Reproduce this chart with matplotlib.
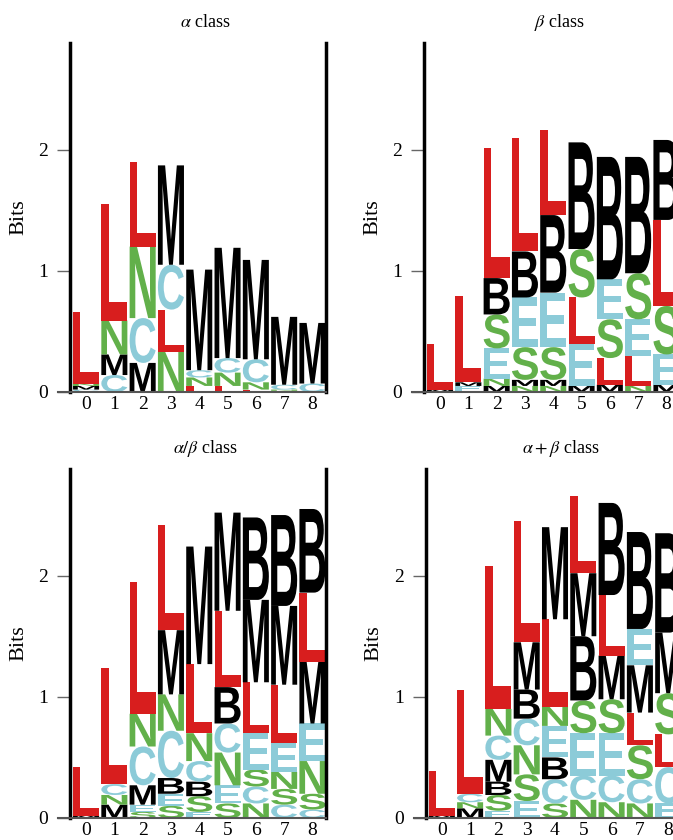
import matplotlib
matplotlib.use("Agg")
import matplotlib.pyplot as plt
from matplotlib.textpath import TextPath
from matplotlib.font_manager import FontProperties
from matplotlib.patches import PathPatch
from matplotlib.transforms import Affine2D

plt.rcParams['font.family'] = 'Liberation Serif'
plt.rcParams['mathtext.fontset'] = 'stix'

positions = [0, 1, 2, 3, 4, 5, 6, 7, 8]

# stacks listed bottom -> top, heights in bits
alpha_letters = [["C", "M", "N", "L"], ["C", "M", "N", "L"], ["M", "C", "N", "L"],
                 ["N", "L", "C", "M"], ["L", "N", "C", "M"], ["L", "N", "C", "M"],
                 ["L", "N", "C", "M"], ["L", "N", "C", "M"], ["C", "M"]]
alpha_heights = [[0.02, 0.03, 0.02, 0.59], [0.14, 0.17, 0.28, 0.96], [0.24, 0.37, 0.59, 0.70],
                 [0.33, 0.35, 0.37, 0.82], [0.05, 0.07, 0.06, 0.83], [0.05, 0.11, 0.12, 0.91],
                 [0.02, 0.06, 0.19, 0.82], [0.01, 0.01, 0.04, 0.56], [0.07, 0.50]]

beta_letters = [["M", "L"], ["E", "M", "L"], ["M", "N", "E", "S", "B", "L"],
                ["N", "M", "S", "E", "B", "L"], ["N", "M", "S", "E", "B", "L"],
                ["M", "E", "L", "S", "B"], ["M", "L", "S", "E", "B"],
                ["N", "L", "E", "S", "B"], ["M", "E", "S", "L", "B"]]
beta_heights = [[0.02, 0.38], [0.05, 0.03, 0.71], [0.05, 0.06, 0.25, 0.28, 0.30, 1.07],
                [0.05, 0.05, 0.27, 0.41, 0.38, 0.94], [0.05, 0.05, 0.27, 0.45, 0.64, 0.70],
                [0.05, 0.35, 0.38, 0.40, 0.88], [0.06, 0.22, 0.32, 0.33, 1.01],
                [0.05, 0.25, 0.30, 0.38, 0.96], [0.06, 0.25, 0.40, 0.71, 0.66]]

ab_letters = [["M", "L"], ["M", "N", "C", "L"], ["S", "E", "M", "C", "N", "L"],
              ["S", "E", "B", "C", "N", "M", "L"], ["E", "S", "B", "C", "N", "L", "M"],
              ["S", "E", "N", "C", "B", "L", "M"], ["N", "C", "S", "E", "L", "M", "B"],
              ["C", "S", "N", "E", "L", "M", "B"], ["C", "S", "N", "E", "M", "L", "B"]]
ab_heights = [[0.02, 0.40], [0.11, 0.08, 0.09, 0.96], [0.05, 0.06, 0.16, 0.32, 0.27, 1.09],
              [0.10, 0.10, 0.13, 0.39, 0.30, 0.53, 0.87], [0.05, 0.13, 0.12, 0.17, 0.23, 0.57, 0.97],
              [0.12, 0.15, 0.27, 0.24, 0.30, 0.63, 0.81], [0.12, 0.14, 0.14, 0.30, 0.42, 0.68, 0.68],
              [0.11, 0.13, 0.14, 0.24, 0.48, 0.65, 0.75], [0.07, 0.13, 0.27, 0.31, 0.51, 0.57, 0.69]]

apb_letters = [["M", "L"], ["M", "N", "C", "L"], ["E", "S", "B", "M", "C", "N", "L"],
               ["E", "S", "N", "C", "B", "M", "L"], ["S", "C", "B", "E", "N", "L", "M"],
               ["N", "C", "E", "S", "B", "M", "L"], ["N", "C", "E", "S", "M", "L", "B"],
               ["N", "C", "S", "L", "M", "E", "B"], ["E", "C", "L", "S", "M", "B"]]
apb_heights = [[0.02, 0.37], [0.08, 0.05, 0.07, 0.86], [0.06, 0.13, 0.11, 0.18, 0.20, 0.22, 1.18],
               [0.14, 0.22, 0.24, 0.22, 0.24, 0.39, 1.00], [0.12, 0.20, 0.18, 0.26, 0.16, 0.72, 0.76],
               [0.15, 0.20, 0.35, 0.27, 0.53, 0.52, 0.64], [0.13, 0.22, 0.35, 0.28, 0.36, 0.50, 0.76],
               [0.12, 0.20, 0.28, 0.27, 0.39, 0.30, 0.80], [0.12, 0.30, 0.27, 0.34, 0.50, 0.82]]

titles = [r'$\alpha$ class', r'$\beta$ class', r'$\alpha/\beta$ class', r'$\alpha+\beta$ class']

colors = {"L": "#d81e1e", "N": "#62b04a", "S": "#62b04a",
          "C": "#8ccbd8", "E": "#8ccbd8", "M": "#000000", "B": "#000000"}

fp = FontProperties(family='Liberation Sans', weight='bold')


def draw_letter(ax, letter, x, y0, h, w=0.92):
    tp = TextPath((0, 0), letter, size=1, prop=fp)
    bb = tp.get_extents()
    tr = Affine2D().translate(-bb.x0, -bb.y0).scale(w / bb.width, h / bb.height).translate(x - w / 2, y0)
    patch = PathPatch(tr.transform_path(tp), facecolor=colors[letter], edgecolor='none')
    ax.add_patch(patch)


def draw_logo(ax, letters, heights, title):
    for x, lets, hs in zip(positions, letters, heights):
        y0 = 0
        for let, h in zip(lets, hs):
            draw_letter(ax, let, x, y0, h)
            y0 += h
    ax.set_xlim(-1.0, 8.47)
    ax.set_ylim(0, 2.88)
    ax.spines['top'].set_visible(False)
    ax.spines['left'].set_position(('data', -0.55))
    ax.spines['left'].set_linewidth(2.5)
    ax.spines['right'].set_linewidth(2.5)
    ax.spines['bottom'].set_linewidth(1.5)
    ax.spines['bottom'].set_color('#555555')
    ax.set_xticks(positions)
    ax.set_yticks([0, 1, 2])
    ax.tick_params(axis='x', length=0, pad=3, labelsize=14)
    ax.tick_params(axis='y', direction='out', length=9.5, width=1, pad=6.5,
                   labelsize=14, color='#666666')
    ax.set_ylabel('Bits', fontsize=16)
    ax.yaxis.set_label_coords(-0.111, 0.5)
    ax.text(0.55, 1.06, title, transform=ax.transAxes, ha='center', va='center', fontsize=13)


fig = plt.figure(figsize=(6.73, 8.40), dpi=100)
W, H = 673.0, 840.0
axw = 268 / W
axh = 349 / H
ax1 = fig.add_axes([57.75 / W, 448 / H, axw, axh])
ax2 = fig.add_axes([411.75 / W, 448 / H, axw, axh])
ax3 = fig.add_axes([57.75 / W, 22 / H, axw, axh])
ax4 = fig.add_axes([413.5 / W, 22 / H, axw, axh])

draw_logo(ax1, alpha_letters, alpha_heights, titles[0])
draw_logo(ax2, beta_letters, beta_heights, titles[1])
draw_logo(ax3, ab_letters, ab_heights, titles[2])
draw_logo(ax4, apb_letters, apb_heights, titles[3])

fig.savefig('out.png', dpi=100)
